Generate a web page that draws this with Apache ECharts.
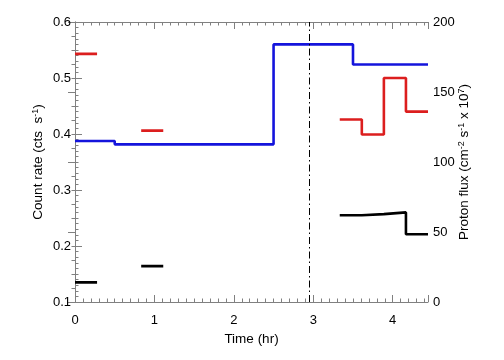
<!DOCTYPE html>
<html><head><meta charset="utf-8">
<script src="https://cdn.jsdelivr.net/npm/echarts@6/dist/echarts.min.js"></script>
<style>html,body{margin:0;padding:0;background:#fff}#c{width:504px;height:360px}</style>
</head><body><div id="c"></div>
<script>
// ---- data ----
const binStart = [0, 0.8333, 3.3333, 3.6111, 3.8889, 4.1667]; // hr
const binWidth = 0.2778; // hr
const redRate = [0.543, 0.406, 0.426, 0.399, 0.500, 0.440];   // cts/s
const blackRate = [0.135, 0.164, 0.255, 0.257, 0.260, 0.221]; // cts/s
const fluxEdges = [0, 0.5, 2.5, 3.5, 4.4444];                 // hr
const fluxVals = [115, 112.6, 184, 169.6];                    // 1e7 cm^-2 s^-1
const markerTime = 2.95;
const xMax = 4.4444;
const leftTitle = 'Count rate (cts  s{sup|-1})';
const rightTitle = 'Proton flux (cm{sup|-2} s{sup|-1} x 10{sup|7})';
const xTitle = 'Time (hr)';

function stepGroups(starts, width, vals) {
  const groups = []; let cur = null;
  for (let i = 0; i < starts.length; i++) {
    const s = starts[i], e = s + width;
    if (cur && Math.abs(cur.end - s) < 1e-3) {
      cur.pts.push([s, vals[i]], [e, vals[i]]); cur.end = e;
    } else {
      cur = {end: e, pts: [[s, vals[i]], [e, vals[i]]]}; groups.push(cur);
    }
  }
  return groups.map(g => g.pts);
}
function stepEdges(edges, vals) {
  const pts = [];
  for (let i = 0; i < vals.length; i++) pts.push([edges[i], vals[i]], [edges[i + 1], vals[i]]);
  return pts;
}

const FONT = 'Liberation Sans';
const AX = '#808080';
const RED = '#dc1e1e', BLUE = '#1414dc', BLACK = '#000000';

const series = [];
stepGroups(binStart, binWidth, redRate).forEach(p => series.push({
  type: 'line', data: p, xAxisIndex: 0, yAxisIndex: 0, symbol: 'none',
  lineStyle: {color: RED, width: 2.6}
}));
stepGroups(binStart, binWidth, blackRate).forEach(p => series.push({
  type: 'line', data: p, xAxisIndex: 0, yAxisIndex: 0, symbol: 'none',
  lineStyle: {color: BLACK, width: 2.6}
}));
series.push({
  type: 'line', data: stepEdges(fluxEdges, fluxVals), xAxisIndex: 0, yAxisIndex: 1,
  symbol: 'none', lineStyle: {color: BLUE, width: 2.6},
  markLine: {
    silent: true, symbol: 'none', label: {show: false},
    lineStyle: {color: '#000', width: 1, type: [7, 3, 1.5, 3]},
    data: [{xAxis: markerTime}]
  }
});

function axisCommon(minorSplit) {
  return {
    axisLine: {show: true, lineStyle: {color: AX}},
    axisTick: {show: true, inside: true, length: 7, lineStyle: {color: AX}},
    minorTick: {show: true, splitNumber: minorSplit, length: 3.5, lineStyle: {color: AX}},
    splitLine: {show: false}, minorSplitLine: {show: false}
  };
}
const lab = (m) => ({color: '#000', fontSize: 13, fontFamily: FONT, margin: m});
const rich = {sup: {fontSize: 9, fontFamily: FONT, fill: '#000', verticalAlign: 'top', lineHeight: 10}};
function vTitle(text, x) {
  return {type: 'text', x: x, y: 162, rotation: Math.PI / 2, silent: true,
    style: {text: text, fill: '#000', font: '13.5px "' + FONT + '"', align: 'center', verticalAlign: 'middle', rich: rich}};
}

const option = {
  animation: false,
  grid: {left: 75, right: 76, top: 22, bottom: 58},
  xAxis: [Object.assign({
    type: 'value', position: 'bottom', min: 0, max: xMax, interval: 1,
    name: xTitle, nameLocation: 'middle', nameGap: 26,
    nameTextStyle: {fontSize: 13.5, fontFamily: FONT, color: '#000'},
    axisLabel: Object.assign(lab(12), {showMaxLabel: false})
  }, axisCommon(10)), Object.assign({
    type: 'value', position: 'top', min: 0, max: xMax, interval: 1,
    axisLabel: {show: false}
  }, axisCommon(10))],
  yAxis: [Object.assign({
    type: 'value', position: 'left', min: 0.1, max: 0.6, interval: 0.1,
    axisLabel: Object.assign(lab(4), {formatter: v => v.toFixed(1)})
  }, axisCommon(10)), Object.assign({
    type: 'value', position: 'right', min: 0, max: 200, interval: 50,
    axisLabel: lab(5)
  }, axisCommon(5))],
  graphic: [vTitle(leftTitle, 38.5), vTitle(rightTitle, 464)],
  series: series
};
echarts.init(document.getElementById('c')).setOption(option);
</script>
</body></html>
